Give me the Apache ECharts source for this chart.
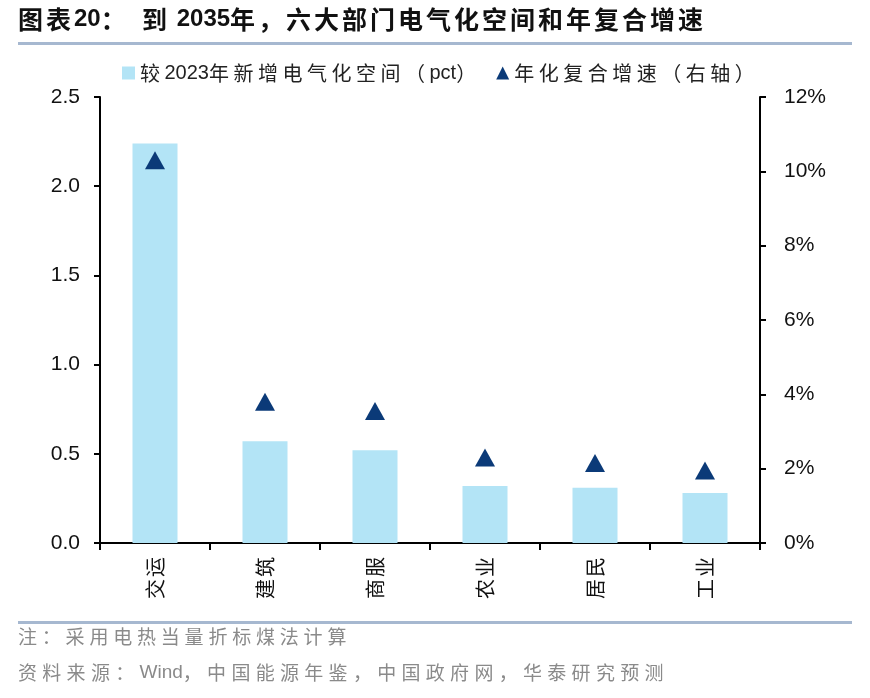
<!DOCTYPE html>
<html><head><meta charset="utf-8">
<script src="https://cdn.jsdelivr.net/npm/echarts@6/dist/echarts.min.js"></script>
<style>html,body{margin:0;padding:0;background:#fff}#c{width:870px;height:698px}</style>
</head><body><div id="c"></div>
<script>
const categories = ['交运', '建筑', '商服', '农业', '居民', '工业'];
const newSpace = [2.24, 0.57, 0.52, 0.32, 0.31, 0.28];
const cagr = [10.3, 3.8, 3.55, 2.3, 2.15, 1.95];
const leftTicks = { min: 0, max: 2.5, interval: 0.5 };
const rightTicks = { min: 0, max: 12, interval: 2 };
const seriesNames = ['较2023年新增电气化空间（pct）', '年化复合增速（右轴）'];
const titleText = '图表20：  到 2035年，六大部门电气化空间和年复合增速';
const noteText = '注：采用电热当量折标煤法计算';
const sourceText = '资料来源：Wind，中国能源年鉴，中国政府网，华泰研究预测';

// wrap each wide (CJK) char in a fixed-width rich block to mimic the letter spacing
function sp(s, key) { return s.replace(/[^\x00-\x7F]/g, ch => '{' + key + '|' + ch + '}'); }

const chart = echarts.init(document.getElementById('c'));
const fontEn = 'Liberation Sans, Arial, sans-serif';
const cjk = '"Noto Sans CJK SC", sans-serif';
chart.setOption({
  animation: false,
  backgroundColor: '#fff',
  graphic: [
    { type: 'text', left: 18, top: 7, style: {
        text: sp(titleText, 't'), font: 'bold 24px Liberation Sans, Arial, sans-serif', fill: '#111',
        rich: { t: { width: 28, fontSize: 25, fontWeight: 'bold', fontFamily: cjk, fill: '#111' } } } },
    { type: 'rect', shape: { x: 18, y: 42, width: 834, height: 3 }, style: { fill: '#a6b8d0' } },
    { type: 'rect', shape: { x: 18, y: 621, width: 834, height: 3 }, style: { fill: '#a6b8d0' } },
    { type: 'text', left: 18, top: 627, style: {
        text: sp(noteText, 'f'), font: '18px Liberation Sans, Arial, sans-serif', fill: '#8a8a8a',
        rich: { f: { width: 23.8, fontSize: 19, fontFamily: cjk, fill: '#8a8a8a' } } } },
    { type: 'text', left: 18, top: 663, style: {
        text: sp(sourceText, 'f'), font: '19px Liberation Sans, Arial, sans-serif', fill: '#8a8a8a',
        rich: { f: { width: 24.3, fontSize: 19, fontFamily: cjk, fill: '#8a8a8a' } } } }
  ],
  legend: {
    top: 58, left: 117,
    itemGap: 20, itemWidth: 13, itemHeight: 13,
    formatter: n => sp(n, 'w'),
    textStyle: { fontFamily: fontEn, fontSize: 20, color: '#222',
      rich: { w: { width: 24.5, fontSize: 20, fontFamily: cjk, color: '#222' } } },
    data: [
      { name: seriesNames[0], icon: 'rect' },
      { name: seriesNames[1], icon: 'triangle' }
    ]
  },
  grid: { left: 100, right: 110, top: 97, bottom: 155 },
  xAxis: {
    type: 'category', data: categories,
    axisLine: { lineStyle: { color: '#000', width: 2 } },
    axisTick: { show: true, inside: false, length: 7, alignWithLabel: false, lineStyle: { color: '#000', width: 2 } },
    axisLabel: { rotate: 90, margin: 14, fontFamily: cjk, fontSize: 20, color: '#111',
      formatter: v => sp(v, 'c'), rich: { c: { width: 22, fontSize: 20, fontFamily: cjk, color: '#111' } } }
  },
  yAxis: [
    {
      type: 'value', min: leftTicks.min, max: leftTicks.max, interval: leftTicks.interval,
      axisLine: { show: true, lineStyle: { color: '#000', width: 2 } },
      axisTick: { show: true, length: 6, lineStyle: { color: '#000', width: 2 } },
      splitLine: { show: false },
      axisLabel: { margin: 20, fontFamily: fontEn, fontSize: 21, color: '#111', formatter: v => v.toFixed(1) }
    },
    {
      type: 'value', position: 'right', min: rightTicks.min, max: rightTicks.max, interval: rightTicks.interval,
      axisLine: { show: true, lineStyle: { color: '#000', width: 2 } },
      axisTick: { show: true, length: 6, lineStyle: { color: '#000', width: 2 } },
      splitLine: { show: false },
      axisLabel: { margin: 24, fontFamily: fontEn, fontSize: 21, color: '#111', formatter: '{value}%' }
    }
  ],
  series: [
    {
      name: seriesNames[0], type: 'bar', data: newSpace, yAxisIndex: 0,
      barWidth: 45, itemStyle: { color: '#b3e4f6' }
    },
    {
      name: seriesNames[1], type: 'scatter', data: cagr, yAxisIndex: 1,
      symbol: 'triangle', symbolSize: [20, 18], itemStyle: { color: '#0b3a78', opacity: 1 }
    }
  ]
});
</script></body></html>
